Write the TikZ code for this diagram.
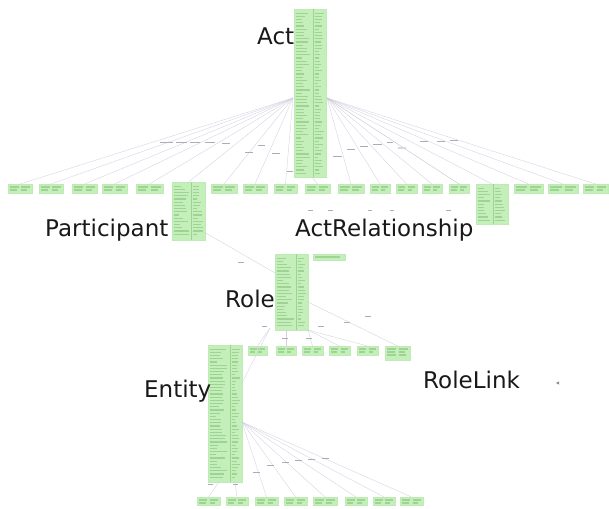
\documentclass[tikz,border=0pt]{standalone}
\usepackage{fontspec}
\setmainfont{DejaVu Sans}
\definecolor{clsfill}{RGB}{196,238,186}
\definecolor{clsdraw}{RGB}{190,234,180}
\definecolor{clstxt}{RGB}{158,212,146}
\definecolor{connc}{RGB}{212,207,226}
\definecolor{mkc}{RGB}{172,172,184}
\definecolor{lblc}{RGB}{25,25,25}
\tikzset{
  cls/.style={fill=clsfill, draw=clsdraw, line width=0.3pt, inner sep=0pt, outer sep=0pt},
  divl/.style={draw=clstxt, line width=0.7pt},
  txl/.style={draw=clstxt, line width=1.3pt},
  conn/.style={draw=connc, line width=0.35pt},
  mk/.style={fill=mkc},
  lbl/.style={font=\fontsize{23}{26}\selectfont, text=lblc, inner sep=0pt, anchor=base west}
}
\newcommand\tallcls[6]{%
  \node[cls, anchor=north west, minimum width=#4pt, minimum height=#5pt] (#1) at (#2,#3) {};
  \pgfmathsetmacro\clsdiv{#2+#6*#4}
  \draw[divl] (\clsdiv,#3) -- (\clsdiv,#3+#5);
  \pgfmathtruncatemacro\clsn{(#5-4)/3.2}
  \foreach \k in {1,...,\clsn}{%
    \pgfmathsetmacro\yy{#3+1+\k*3.2}
    \pgfmathsetmacro\la{(\clsdiv-#2-3)*(0.35+0.6*rnd)}
    \pgfmathsetmacro\lb{(#2+#4-\clsdiv-3)*(0.35+0.6*rnd)}
    \draw[txl] (#2+1.5,\yy) -- ++(\la,0);
    \draw[txl] (\clsdiv+1.5,\yy) -- ++(\lb,0);
  }%
}
\newcommand\smallcls[5]{%
  \node[cls, anchor=north west, minimum width=#4pt, minimum height=#5pt] (#1) at (#2,#3) {};
  \draw[txl] (#2+2,#3+3) -- (#2+0.45*#4,#3+3);
  \draw[txl] (#2+0.55*#4,#3+3) -- (#2+#4-2,#3+3);
  \draw[txl] (#2+2,#3+6) -- (#2+0.38*#4,#3+6);
  \draw[txl] (#2+0.55*#4,#3+6) -- (#2+#4-5,#3+6);
}
\begin{document}
\begin{tikzpicture}[x=1pt,y=-1pt]
\pgfmathsetseed{11}
\useasboundingbox (0,0) rectangle (609,508);
\fill[white] (0,0) rectangle (609,508);

% ---- connector end points
\coordinate (actL) at (293,98);
\coordinate (actR) at (327,98);
\coordinate (actB) at (312,177);
\coordinate (partR) at (204,232);
\coordinate (roleL) at (275,273);
\coordinate (roleR) at (308,302);
\coordinate (roleB) at (286,330);
\coordinate (roleBL) at (270,328);
\coordinate (entR) at (242,383);
\coordinate (entF) at (242,422);

% ---- boxes
\tallcls{act}{294}{9}{32}{168}{0.6}
\smallcls{r1}{8}{184}{24}{9}
\smallcls{r2}{39}{184}{24}{9}
\smallcls{r3}{72}{184}{25}{9}
\smallcls{r4}{102}{184}{25}{9}
\smallcls{r5}{136}{184}{27}{9}
\tallcls{part}{172}{182}{33}{58}{0.6}
\smallcls{r6}{211}{184}{26}{9}
\smallcls{r7}{243}{184}{24}{9}
\smallcls{r8}{274}{184}{23}{9}
\smallcls{r9}{305}{184}{25}{9}
\smallcls{r10}{338}{184}{26}{9}
\smallcls{r11}{370}{184}{20}{9}
\smallcls{r12}{396}{184}{21}{9}
\smallcls{r13}{422}{184}{20}{9}
\smallcls{r14}{449}{184}{20}{9}
\tallcls{actrel}{476}{184}{32}{40}{0.55}
\smallcls{r15}{514}{184}{29}{9}
\smallcls{r16}{548}{184}{30}{9}
\smallcls{r17}{583}{184}{25}{9}

\tallcls{role}{275}{254}{33}{76}{0.64}
\node[cls, anchor=north west, minimum width=32pt, minimum height=6pt] (roleside) at (313,254) {};
\draw[txl] (315,257) -- (340,257);

\tallcls{entity}{208}{345}{34}{137}{0.65}
\smallcls{s1}{248}{346}{19}{9}
\smallcls{s2}{276}{346}{20}{9}
\smallcls{s3}{302}{346}{21}{9}
\smallcls{s4}{329}{346}{21}{9}
\smallcls{s5}{357}{346}{21}{9}
\smallcls{s6}{385}{346}{25}{14}
\draw[txl] (387,355) -- (396,355);
\draw[txl] (399,355) -- (406,355);

\smallcls{b1}{197}{497}{23}{8}
\smallcls{b2}{226}{497}{22}{8}
\smallcls{b3}{255}{497}{23}{8}
\smallcls{b4}{284}{497}{23}{8}
\smallcls{b5}{313}{497}{24}{8}
\smallcls{b6}{345}{497}{22}{8}
\smallcls{b7}{373}{497}{22}{8}
\smallcls{b8}{400}{497}{23}{8}

% ---- connectors
\foreach \t in {r1,r2,r3,r4,r5,part,r6,r7,r8}{\draw[conn] (actL) -- (\t.north);}
\foreach \t in {r10,r11,r12,r13,r15,r16,r17,actrel}{\draw[conn] (actR) -- (\t.north);}
\draw[conn, draw=connc!70!black!60] (actR) -- (r14.north);
\draw[conn] (actB) -- (r9.north);
\draw[conn] (partR) -- (roleL);
\draw[conn] (roleR) -- (s6.north);
\draw[conn] (roleBL) -- (s1.north);
\draw[conn] (roleB) -- (s2.north);
\draw[conn] (role.south east) -- (s3.north);
\draw[conn] (role.south east) -- (s4.north);
\draw[conn] (role.south east) -- (s5.north);
\draw[conn] (roleBL) -- (entR);
\foreach \t in {b3,b4,b5,b6,b7,b8}{\draw[conn] (entF) -- (\t.north);}
\draw[conn] (entity.south west) ++(11,0) -- (b1.north);
\draw[conn] (entity.south east) ++(-7,0) -- (b2.north);

% ---- tiny connector labels
\foreach \x/\y/\w in {160/142/13, 176/142/11, 190/142/10, 205/142/10, 222/143/8,
  245/152/8, 258/145/7, 272/153/8, 287/171/6,
  333/156/9, 347/149/8, 360/146/8, 373/144/9, 387/142/6, 420/141/8, 437/141/8, 450/140/8,
  308/210/5, 328/210/5, 368/210/4, 390/210/4, 446/210/5,
  238/262/6, 262/326/5, 282/338/6, 306/338/6, 318/326/6, 344/322/6, 365/316/6,
  253/472/7, 267/465/7, 282/462/7, 295/460/7, 308/459/7, 322/458/7, 208/484/5, 233/484/5}
  {\fill[mk] (\x,\y) rectangle ++(\w,1.2);}
\fill[mk, fill=mkc!120!black!80] (398,147) rectangle ++(8,1.8);

% ---- class names
\node[lbl] (actlbl) at (257,45) {Act};
\node[lbl] (partlbl) at (45,236) {Participant};
\node[lbl] (arlbl) at (295,236) {ActRelationship};
\node[lbl] (rolelbl) at (225,307) {Role};
\node[lbl] (entlbl) at (144,397) {Entity};
\node[lbl] (rllbl) at (423,388) {RoleLink};

% tiny mark right of RoleLink
\coordinate (rlmark) at (556,383);
\fill[mkc!80!black] (rlmark) -- ++(3,-1.6) -- ++(0,3.2) -- cycle;
\end{tikzpicture}
\end{document}
